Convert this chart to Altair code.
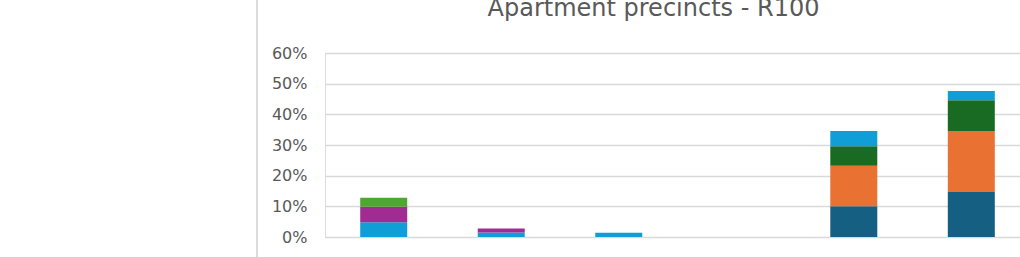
import altair as alt
import pandas as pd

categories = ["C1", "C2", "C3", "C4", "C5", "C6"]
series = ["Series 1", "Series 2", "Series 3", "Series 4", "Series 5", "Series 6"]
colors = ["#156082", "#E97132", "#196B24", "#0F9ED5", "#A02B93", "#4EA72E"]
values = [
    [0, 0, 0, 0, 0.10, 0.147],
    [0, 0, 0, 0, 0.132, 0.199],
    [0, 0, 0, 0, 0.064, 0.10],
    [0.048, 0.015, 0.014, 0, 0.05, 0.03],
    [0.051, 0.013, 0, 0, 0, 0],
    [0.029, 0, 0, 0, 0, 0],
]
title_text = "Apartment precincts - R100"
y_ticks = [0, 0.1, 0.2, 0.3, 0.4, 0.5, 0.6]

rows = []
for si, s in enumerate(series):
    for ci, c in enumerate(categories):
        rows.append({"category": c, "series": s, "order": si, "value": values[si][ci]})
df = pd.DataFrame(rows)

bars = alt.Chart(df).mark_bar(size=47).encode(
    x=alt.X("category:N", sort=categories,
            scale=alt.Scale(paddingInner=0.6, paddingOuter=0.257, align=0.583),
            axis=alt.Axis(labels=False, ticks=False, domain=False, title=None)),
    y=alt.Y("sum(value):Q", stack="zero",
            scale=alt.Scale(domain=[0, 0.6], nice=False),
            axis=alt.Axis(values=y_ticks, format=".0%", title=None, ticks=False, domain=False,
                          labelFont="DejaVu Sans", labelFontSize=16, labelColor="#595959",
                          labelPadding=18, gridColor="#D9D9D9", gridWidth=1.5)),
    color=alt.Color("series:N", scale=alt.Scale(domain=series, range=colors), legend=None),
    order=alt.Order("order:Q", sort="ascending"),
)

one = pd.DataFrame({"a": [0]})
title = alt.Chart(one).mark_text(
    font="DejaVu Sans", fontSize=24, color="#595959", align="center", baseline="alphabetic"
).encode(x=alt.value(328.5), y=alt.value(-37), text=alt.value(title_text))

border = alt.Chart(one).mark_rule(color="#D0D0D0", strokeWidth=1.5).encode(
    x=alt.value(-68), y=alt.value(-53), y2=alt.value(204)
)

chart = alt.layer(border, bars, title).properties(
    width=695, height=184,
    autosize=alt.AutoSizeParams(type="none"),
    padding={"left": 325, "top": 53, "right": 0, "bottom": 20},
).configure_view(stroke=None).configure(background="white")

chart.save("out.html", embed_options={"renderer": "svg", "actions": False})
